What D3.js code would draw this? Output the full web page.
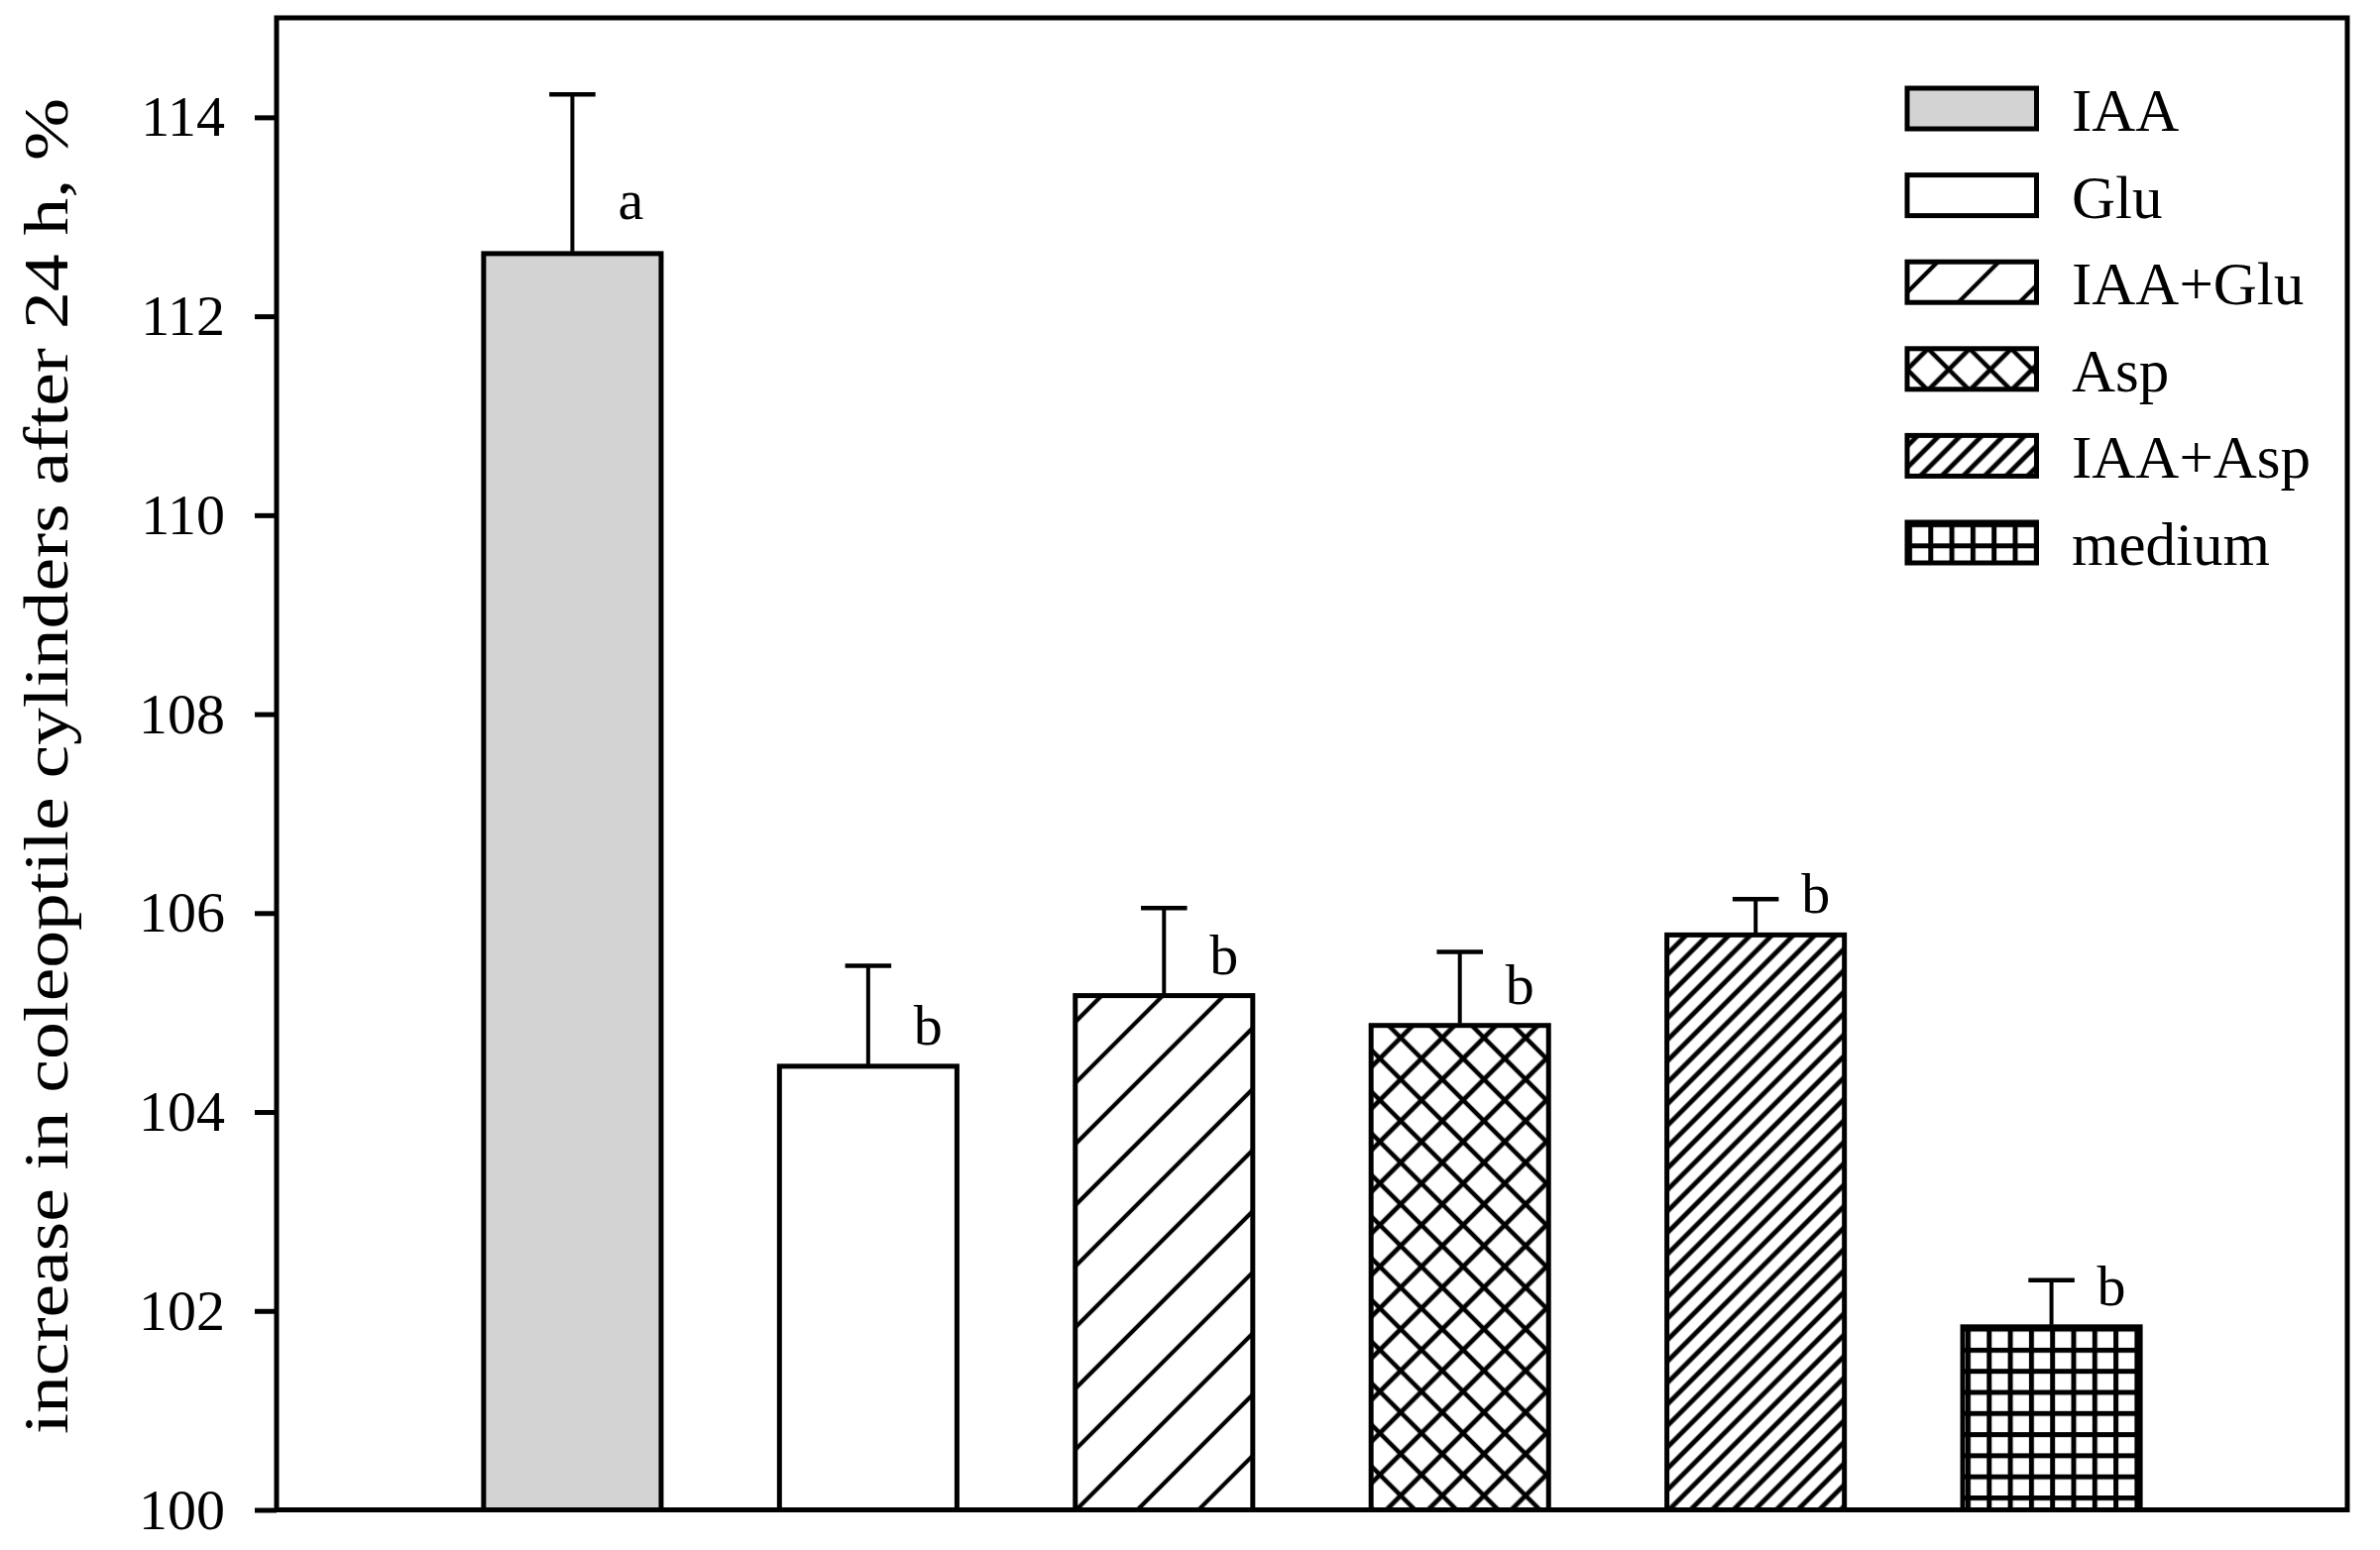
<!DOCTYPE html>
<html>
<head>
<meta charset="utf-8">
<script src="https://cdn.jsdelivr.net/npm/d3@7"></script>
<style>
  body { margin: 0; background: #fff; }
  text { font-family: "Liberation Serif", "Times New Roman", serif; fill: #000; }
</style>
</head>
<body>
<div id="chart"></div>
<script>
// values
var categories = ["IAA", "Glu", "IAA+Glu", "Asp", "IAA+Asp", "medium"];
var means = [112.63, 104.46, 105.17, 104.87, 105.78, 101.84];
var errors = [1.60, 1.01, 0.88, 0.74, 0.36, 0.47];
var letters = ["a", "b", "b", "b", "b", "b"];
var yTicks = [100, 102, 104, 106, 108, 110, 112, 114];
var yLabel = "increase in coleoptile cylinders after 24 h, %";

var fills = ["#d3d3d3", "#ffffff", "url(#hatchWide)", "url(#cross)", "url(#hatchDense)", "url(#grid)"];

var W = 2401, H = 1564;
var margin = {top: 18, right: 33, bottom: 40, left: 279};
var width = W - margin.left - margin.right,
    height = 1523.5 - margin.top;

var data = categories.map(function(c, i) {
  return {name: c, value: means[i], err: errors[i], letter: letters[i], fill: fills[i]};
});

var svg = d3.select("#chart").append("svg")
    .attr("width", W)
    .attr("height", H)
    .attr("viewBox", "0 0 " + W + " " + H);

svg.append("rect").attr("width", W).attr("height", H).attr("fill", "#fff");

// hatch patterns, all in page space so bars and legend share them
var defs = svg.append("defs");

function linePattern(id, gap, sw, cross) {
  var p = defs.append("pattern")
      .attr("id", id)
      .attr("patternUnits", "userSpaceOnUse")
      .attr("width", gap)
      .attr("height", gap)
      .attr("patternTransform", "rotate(45)");
  p.append("rect").attr("width", gap).attr("height", gap).attr("fill", "#fff");
  p.append("line").attr("x1", gap / 2).attr("x2", gap / 2).attr("y1", -1).attr("y2", gap + 1)
    .attr("stroke", "#000").attr("stroke-width", sw);
  if (cross) {
    p.append("line").attr("y1", gap / 2).attr("y2", gap / 2).attr("x1", -1).attr("x2", gap + 1)
      .attr("stroke", "#000").attr("stroke-width", sw);
  }
}
linePattern("hatchWide", 43.6, 4.2, false);
linePattern("cross", 29.7, 4.7, true);
linePattern("hatchDense", 15.3, 4.8, false);

var g = defs.append("pattern")
    .attr("id", "grid")
    .attr("patternUnits", "userSpaceOnUse")
    .attr("width", 21.3)
    .attr("height", 21.3);
g.append("rect").attr("width", 21.3).attr("height", 21.3).attr("fill", "#fff");
g.append("rect").attr("x", 0).attr("y", 0).attr("width", 5).attr("height", 21.3).attr("fill", "#000");
g.append("rect").attr("x", 0).attr("y", 0).attr("width", 21.3).attr("height", 5).attr("fill", "#000");

var chart = svg.append("g")
    .attr("transform", "translate(" + margin.left + "," + margin.top + ")");

var x = d3.scaleBand()
    .domain(categories)
    .range([0, width])
    .paddingInner(0.4)
    .paddingOuter(0.7);

var y = d3.scaleLinear()
    .domain([100, 115])
    .range([height, 0]);

// bars
chart.selectAll(".bar")
  .data(data)
  .enter().append("rect")
    .attr("class", "bar")
    .attr("x", function(d) { return x(d.name); })
    .attr("width", x.bandwidth())
    .attr("y", function(d) { return y(d.value); })
    .attr("height", function(d) { return height - y(d.value); })
    .attr("fill", function(d) { return d.fill; })
    .attr("stroke", "#000")
    .attr("stroke-width", 5);

// error bars (upper only)
var capW = x.bandwidth() * 0.26;
var eb = chart.selectAll(".err")
  .data(data)
  .enter().append("g")
    .attr("class", "err");
eb.append("line")
    .attr("x1", function(d) { return x(d.name) + x.bandwidth() / 2; })
    .attr("x2", function(d) { return x(d.name) + x.bandwidth() / 2; })
    .attr("y1", function(d) { return y(d.value) - 2; })
    .attr("y2", function(d) { return y(d.value + d.err); })
    .attr("stroke", "#000")
    .attr("stroke-width", 4);
eb.append("line")
    .attr("x1", function(d) { return x(d.name) + x.bandwidth() / 2 - capW / 2; })
    .attr("x2", function(d) { return x(d.name) + x.bandwidth() / 2 + capW / 2; })
    .attr("y1", function(d) { return y(d.value + d.err); })
    .attr("y2", function(d) { return y(d.value + d.err); })
    .attr("stroke", "#000")
    .attr("stroke-width", 4.5);

// significance letters
chart.selectAll(".letter")
  .data(data)
  .enter().append("text")
    .attr("class", "letter")
    .attr("x", function(d) { return x(d.name) + x.bandwidth() / 2 + 46; })
    .attr("y", function(d) { return y(d.value) - (d.letter === "a" ? 35 : 22); })
    .attr("font-size", 58)
    .text(function(d) { return d.letter; });

// frame
chart.append("rect")
    .attr("x", 0).attr("y", 0)
    .attr("width", width).attr("height", height)
    .attr("fill", "none")
    .attr("stroke", "#000")
    .attr("stroke-width", 5);

// y axis
var yAxis = chart.append("g")
    .call(d3.axisLeft(y).tickValues(yTicks).tickSize(22).tickPadding(30).tickFormat(d3.format("d")));
yAxis.select(".domain").remove();
yAxis.selectAll(".tick line").attr("stroke", "#000").attr("stroke-width", 5);
yAxis.selectAll(".tick text")
    .attr("font-family", "Liberation Serif, serif")
    .attr("font-size", 58)
    .attr("fill", "#000");

// y label
svg.append("text")
    .attr("transform", "translate(68," + 773 + ") rotate(-90)")
    .attr("text-anchor", "middle")
    .attr("font-size", 64)
    .attr("textLength", 1348)
    .attr("lengthAdjust", "spacingAndGlyphs")
    .text(yLabel);

// legend
var legend = svg.append("g")
    .attr("transform", "translate(1924,89)");
var rows = legend.selectAll(".lg")
  .data(data)
  .enter().append("g")
    .attr("class", "lg")
    .attr("transform", function(d, i) { return "translate(0," + (i * 87.6) + ")"; });
rows.append("rect")
    .attr("width", 130.5)
    .attr("height", 41)
    .attr("fill", function(d) { return d.fill; })
    .attr("stroke", "#000")
    .attr("stroke-width", 5);
rows.append("text")
    .attr("x", 166)
    .attr("y", 43)
    .attr("font-size", 61)
    .text(function(d) { return d.name; });
</script>
</body>
</html>
